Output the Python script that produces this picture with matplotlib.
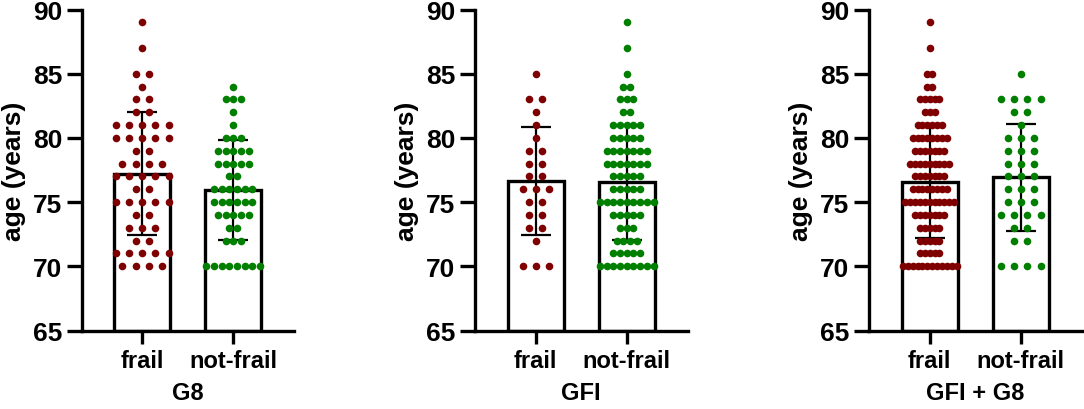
import numpy as np
import matplotlib.pyplot as plt

plt.rcParams['font.family'] = ['Liberation Sans', 'DejaVu Sans']
plt.rcParams['font.weight'] = 'bold'

ages = [89, 87, 85, 84, 83, 82, 81, 80, 79, 78, 77, 76, 75, 74, 73, 72, 71, 70]

# patients per age (same order as ages)
g8_frail = [1, 1, 2, 1, 2, 2, 5, 5, 2, 4, 5, 2, 5, 2, 3, 2, 5, 4]
g8_notfrail = [0, 0, 0, 1, 3, 1, 1, 3, 5, 5, 2, 6, 6, 5, 2, 3, 0, 8]
gfi_frail = [0, 0, 1, 0, 2, 1, 1, 1, 2, 2, 2, 3, 2, 2, 2, 1, 0, 3]
gfi_notfrail = [1, 1, 1, 2, 3, 2, 5, 5, 7, 7, 5, 5, 9, 5, 3, 4, 5, 9]
both_frail = [1, 1, 2, 2, 5, 3, 6, 8, 7, 9, 7, 8, 11, 7, 5, 5, 5, 12]
both_notfrail = [0, 0, 1, 0, 4, 2, 1, 3, 3, 3, 3, 3, 3, 4, 2, 2, 0, 4]

groups = ["frail", "not-frail"]
panels = ["G8", "GFI", "GFI + G8"]
panel_data = [(g8_frail, g8_notfrail), (gfi_frail, gfi_notfrail), (both_frail, both_notfrail)]
colors = ["#7f0000", "#007f00"]

fig = plt.figure(figsize=(10.84, 4.10), dpi=100)
lefts = [81.5, 475, 869]

for left, title, (fr, nf) in zip(lefts, panels, panel_data):
    ax = fig.add_axes([left / 1084, 78.5 / 410, 212.5 / 1084, 321 / 410])
    for i, counts in enumerate([fr, nf]):
        vals = np.repeat(ages, counts)
        m = vals.mean()
        sd = vals.std(ddof=1)
        ax.bar(i, m - 65, bottom=65, width=0.62, color="white", edgecolor="black",
               linewidth=2.4, zorder=1)
        ax.errorbar(i, m, yerr=sd, color="black", lw=1.6, capsize=11, capthick=1.6, zorder=2)
        nmax = max(counts)
        sp = min(0.145, 0.59 / (nmax - 1))
        xs, ys = [], []
        for a, n in zip(ages, counts):
            off = (np.arange(n) - (n - 1) / 2) * sp
            xs.extend(i + off)
            ys.extend([a] * n)
        ax.scatter(xs, ys, s=30, color=colors[i], linewidths=0, zorder=3, clip_on=False)

    ax.set_xlim(-0.667, 1.667)
    ax.set_ylim(65, 90)
    ax.set_yticks([65, 70, 75, 80, 85, 90])
    ax.set_xticks([0, 1])
    ax.set_xticklabels(groups, fontsize=17, fontweight="bold")
    ax.set_xlabel(title, fontsize=17, fontweight="bold", labelpad=7)
    ax.set_ylabel("age (years)", fontsize=19, fontweight="bold", labelpad=5)
    for lab in ax.get_yticklabels():
        lab.set_fontsize(19)
        lab.set_fontweight("bold")
    ax.tick_params(axis="y", length=11, width=2.4, pad=3)
    ax.tick_params(axis="x", length=9, width=2.4, pad=4)
    for s in ["top", "right"]:
        ax.spines[s].set_visible(False)
    for s in ["left", "bottom"]:
        ax.spines[s].set_linewidth(2.4)

fig.savefig("out.png", dpi=100)
